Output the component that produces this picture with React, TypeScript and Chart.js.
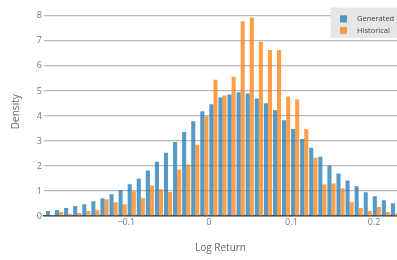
import React, { useEffect, useRef } from 'react';
import { Chart, registerables } from 'chart.js';

Chart.register(...registerables);

// Bin centres of the histogram (Log Return)
const binCenters = [
  -0.1925, -0.1815, -0.1705, -0.1595, -0.1485, -0.1375, -0.1265, -0.1155, -0.1045, -0.0935,
  -0.0825, -0.0715, -0.0605, -0.0495, -0.0385, -0.0275, -0.0165, -0.0055, 0.0055, 0.0165,
  0.0275, 0.0385, 0.0495, 0.0605, 0.0715, 0.0825, 0.0935, 0.1045, 0.1155, 0.1265,
  0.1375, 0.1485, 0.1595, 0.1705, 0.1815, 0.1925, 0.2035, 0.2145, 0.2255,
];

const generated = [
  0.20, 0.24, 0.32, 0.40, 0.47, 0.59, 0.71, 0.87, 1.04, 1.27,
  1.50, 1.82, 2.17, 2.53, 2.96, 3.36, 3.79, 4.19, 4.47, 4.74,
  4.86, 4.95, 4.90, 4.70, 4.51, 4.23, 3.83, 3.48, 3.08, 2.73,
  2.37, 2.02, 1.70, 1.42, 1.19, 0.95, 0.79, 0.63, 0.51,
];

const historical = [
  0.04, 0.16, 0.09, 0.12, 0.20, 0.24, 0.67, 0.55, 0.47, 0.99,
  0.71, 1.22, 1.07, 0.96, 1.86, 2.06, 2.85, 3.99, 5.45, 4.82,
  5.57, 7.79, 7.94, 6.97, 6.64, 6.64, 4.78, 4.66, 3.48, 2.33,
  1.26, 1.30, 1.11, 0.55, 0.32, 0.20, 0.36, 0.16, 0.10,
];

const seriesNames = ['Generated', 'Historical'];
const seriesColors = ['rgba(31,119,180,0.75)', 'rgba(255,127,14,0.75)'];
const xTicks = [-0.1, 0, 0.1, 0.2];
const yTicks = [0, 1, 2, 3, 4, 5, 6, 7, 8];
const xTitle = 'Log Return';
const yTitle = 'Density';

const FONT = "'Open Sans', sans-serif";

const boxLegend = {
  id: 'boxLegend',
  afterDraw(chart: any) {
    const { ctx, chartArea } = chart;
    const w = 66.5;
    const h = 30.5;
    const x0 = chartArea.right - w;
    const y0 = chartArea.top;
    ctx.save();
    ctx.fillStyle = '#e6e6e6';
    ctx.fillRect(x0, y0, w, h);
    ctx.font = `7.5px ${FONT}`;
    ctx.textBaseline = 'middle';
    ctx.textAlign = 'left';
    chart.data.datasets.forEach((ds: any, i: number) => {
      const cy = y0 + 11.5 + i * 11.5;
      ctx.fillStyle = ds.backgroundColor;
      ctx.fillRect(x0 + 9.5, cy - 3.5, 7, 7);
      ctx.fillStyle = '#444';
      ctx.fillText(ds.label, x0 + 26.5, cy);
    });
    ctx.restore();
  },
};

export default function App() {
  const ref = useRef<HTMLCanvasElement | null>(null);

  useEffect(() => {
    const canvas = ref.current;
    if (!canvas) return;
    const chart = new Chart(canvas, {
      type: 'bar',
      data: {
        datasets: [
          {
            label: seriesNames[0],
            data: binCenters.map((x, i) => ({ x, y: generated[i] })),
            backgroundColor: seriesColors[0],
            borderWidth: 0,
            categoryPercentage: 0.9,
            barPercentage: 1,
          },
          {
            label: seriesNames[1],
            data: binCenters.map((x, i) => ({ x, y: historical[i] })),
            backgroundColor: seriesColors[1],
            borderWidth: 0,
            categoryPercentage: 0.9,
            barPercentage: 1,
          },
        ],
      } as any,
      options: {
        responsive: false,
        animation: false,
        layout: { padding: { top: 5, right: 0, left: 0, bottom: 0 } },
        plugins: {
          legend: { display: false },
          tooltip: { enabled: false },
        },
        scales: {
          x: {
            type: 'linear',
            offset: false,
            min: -0.1998,
            max: 0.2279,
            grid: { display: false, drawTicks: false },
            border: { display: true, color: '#444', width: 1.5 },
            ticks: {
              color: '#777',
              font: { family: FONT, size: 9 },
              padding: 1,
              callback: (v: any) => {
                const n = Number(v);
                if (n === 0) return '0';
                return (n < 0 ? '\u2212' : '') + Math.abs(n).toFixed(1);
              },
              maxRotation: 0,
            },
            afterBuildTicks: (s: any) => {
              s.ticks = xTicks.map((v) => ({ value: v }));
            },
            afterFit: (s: any) => {
              s.height = 44;
            },
            title: {
              display: true,
              text: xTitle,
              color: '#666',
              font: { family: FONT, size: 10 },
              padding: { top: 0, bottom: 6 },
            },
          },
          y: {
            type: 'linear',
            min: 0,
            max: 8.34,
            grid: { color: '#bababa', lineWidth: 1.2, drawTicks: false },
            border: { display: false },
            ticks: {
              color: '#777',
              font: { family: FONT, size: 9 },
              padding: 2,
            },
            afterBuildTicks: (s: any) => {
              s.ticks = yTicks.map((v) => ({ value: v }));
            },
            afterFit: (s: any) => {
              s.width = 44;
            },
            title: {
              display: true,
              text: yTitle,
              color: '#666',
              font: { family: FONT, size: 10 },
              padding: { top: 10, bottom: 0 },
            },
          },
        },
      } as any,
      plugins: [boxLegend],
    });
    return () => chart.destroy();
  }, []);

  return (
    <div style={{ position: 'fixed', left: 0, top: 0, width: 397, height: 260, background: '#fff' }}>
      <canvas ref={ref} width={397} height={260} style={{ display: 'block', width: 397, height: 260 }} />
    </div>
  );
}
